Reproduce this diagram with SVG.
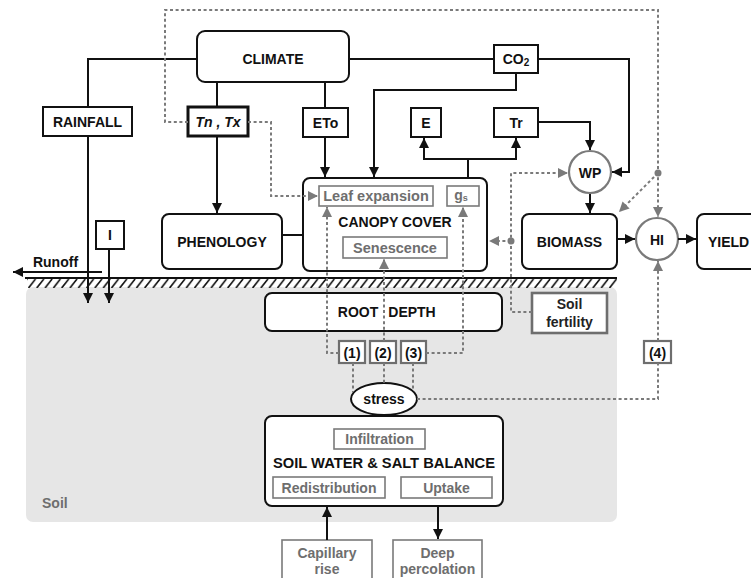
<svg xmlns="http://www.w3.org/2000/svg" width="751" height="578" viewBox="0 0 751 578">
<style>
text{font-family:"Liberation Sans","DejaVu Sans",sans-serif;font-weight:bold;text-anchor:middle;dominant-baseline:central;}
.t{font-size:14px;fill:#111;}
.g{font-size:14px;fill:#6e6e6e;}
.box{fill:#fff;stroke:#111;stroke-width:2;}
.gbox{fill:#fff;stroke:#7a7a7a;stroke-width:1.6;}
.nbox{fill:#fff;stroke:#6e6e6e;stroke-width:2.2;}
.circ{fill:#fff;stroke:#7a7a7a;stroke-width:2.2;}
.ln{fill:none;stroke:#111;stroke-width:2;}
.dl{fill:none;stroke:#7a7a7a;stroke-width:2;stroke-dasharray:3 2.6;}
.dot{fill:#7a7a7a;}
</style>
<defs>
<marker id="ab" viewBox="0 0 10 10" refX="10" refY="5" markerWidth="5" markerHeight="5" markerUnits="strokeWidth" orient="auto"><path d="M0,0 L10,5 L0,10 z" fill="#111"/></marker>
<marker id="ag" viewBox="0 0 10 10" refX="10" refY="5" markerWidth="5" markerHeight="5" markerUnits="strokeWidth" orient="auto"><path d="M0,0 L10,5 L0,10 z" fill="#7a7a7a"/></marker>
<pattern id="hatch" patternUnits="userSpaceOnUse" x="28" y="279" width="8.3" height="9"><path d="M0.5,9 L7.5,0" stroke="#111" stroke-width="1.6"/></pattern>
</defs>

<g id="soil-area">
<rect x="26" y="287" width="591" height="235" rx="7" fill="#e6e6e6"/>
<text class="g" x="42" y="503" style="text-anchor:start">Soil</text>
<rect x="27" y="279" width="590" height="9" fill="url(#hatch)"/>
<line x1="25" y1="278" x2="617" y2="278" stroke="#111" stroke-width="2"/>
</g>

<g id="climate"><rect class="box" x="197" y="31" width="152" height="51" rx="8"/><text class="t" x="273" y="59">CLIMATE</text></g>
<g id="rainfall"><rect class="box" x="43" y="107" width="89" height="29"/><text class="t" x="87.5" y="122">RAINFALL</text></g>
<g id="tntx"><rect class="box" x="188" y="107" width="60" height="29" style="stroke-width:3"/><text class="t" x="218" y="122" style="font-style:italic">Tn , Tx</text></g>
<g id="eto"><rect class="box" x="303" y="108" width="45" height="29"/><text class="t" x="325.5" y="122.5">ETo</text></g>
<g id="co2"><rect class="box" x="494" y="45" width="44" height="28"/><text class="t" x="516" y="59">CO<tspan style="font-size:10px" dy="3">2</tspan></text></g>
<g id="e"><rect class="box" x="411" y="108" width="30" height="29"/><text class="t" x="426" y="122.5">E</text></g>
<g id="tr"><rect class="box" x="494" y="108" width="44" height="29"/><text class="t" x="516" y="122.5">Tr</text></g>
<g id="wp"><circle class="circ" cx="590" cy="172" r="21"/><text class="t" x="590" y="172.5">WP</text></g>
<g id="i"><rect class="box" x="96" y="221" width="28" height="28"/><text class="t" x="110" y="235">I</text></g>
<g id="runoff"><text class="t" x="55.5" y="262">Runoff</text></g>
<g id="phenology"><rect class="box" x="162" y="214" width="120" height="55" rx="7"/><text class="t" x="222" y="241.5">PHENOLOGY</text></g>
<g id="canopy">
<rect class="box" x="303" y="178" width="184" height="93" rx="7"/>
<text class="t" x="395" y="222">CANOPY COVER</text>
<rect class="gbox" x="319" y="186" width="114" height="20"/><text class="g" x="376" y="196" style="font-size:14.5px">Leaf expansion</text>
<rect class="gbox" x="447" y="186" width="32" height="20"/><text class="g" x="461" y="195">g<tspan style="font-size:9px" dy="3">s</tspan></text>
<rect class="gbox" x="343" y="237" width="104" height="21"/><text class="g" x="395" y="247.5" style="font-size:14.5px">Senescence</text>
</g>
<g id="biomass"><rect class="box" x="522" y="214" width="95" height="55" rx="7"/><text class="t" x="569.5" y="241.5">BIOMASS</text></g>
<g id="hi"><circle class="circ" cx="657" cy="239" r="21"/><text class="t" x="657" y="239.5">HI</text></g>
<g id="yield"><rect class="box" x="697" y="214" width="70" height="55" rx="7"/><text class="t" x="708" y="241.5" style="text-anchor:start">YIELD</text></g>
<g id="soil-fertility"><rect class="nbox" x="532" y="293" width="75" height="40" style="stroke-width:2.6"/><text class="t" x="569.5" y="304" style="fill:#222">Soil</text><text class="t" x="569.5" y="322" style="fill:#222">fertility</text></g>
<g id="root-depth"><rect class="box" x="265" y="293" width="237" height="38" rx="7"/><text class="t" x="358" y="312">ROOT<tspan x="412">DEPTH</tspan></text></g>
<g id="s1"><rect class="nbox" x="339" y="341" width="26" height="22"/><text class="t" x="352" y="352.5">(1)</text></g>
<g id="s2"><rect class="nbox" x="370" y="341" width="26" height="22"/><text class="t" x="383" y="352.5">(2)</text></g>
<g id="s3"><rect class="nbox" x="401" y="341" width="25" height="22"/><text class="t" x="413.5" y="352.5">(3)</text></g>
<g id="s4"><rect class="nbox" x="644" y="341" width="27" height="22"/><text class="t" x="657.5" y="352.5">(4)</text></g>
<g id="stress"><ellipse cx="384" cy="399" rx="33" ry="16" fill="#fff" stroke="#111" stroke-width="2"/><text class="t" x="384" y="399">stress</text></g>
<g id="soil-water">
<rect class="box" x="265" y="416" width="238" height="90" rx="7"/>
<rect class="gbox" x="334" y="429" width="91" height="20"/><text class="g" x="379.5" y="439">Infiltration</text>
<text class="t" x="384" y="463" style="font-size:14.5px" textLength="222" lengthAdjust="spacingAndGlyphs">SOIL WATER &amp; SALT BALANCE</text>
<rect class="gbox" x="273" y="477" width="112" height="21"/><text class="g" x="329" y="487.5">Redistribution</text>
<rect class="gbox" x="401" y="477" width="91" height="21"/><text class="g" x="446.5" y="487.5">Uptake</text>
</g>
<g id="capillary"><rect class="gbox" x="282" y="540" width="90" height="45"/><text class="g" x="327" y="553">Capillary</text><text class="g" x="327" y="569">rise</text></g>
<g id="deep"><rect class="gbox" x="393" y="540" width="89" height="45"/><text class="g" x="437.5" y="553">Deep</text><text class="g" x="437.5" y="569">percolation</text></g>

<g id="connectors">
<path class="ln" d="M197,59 H88 V107"/>
<path class="ln" d="M217,82 V107"/>
<path class="ln" d="M325,82 V108"/>
<path class="ln" d="M349,59 H494"/>
<path class="ln" d="M538,59 H629 V172 H612" marker-end="url(#ab)"/>
<path class="ln" d="M516,73 V90 H374 V177" marker-end="url(#ab)"/>
<path class="ln" d="M325,137 V177" marker-end="url(#ab)"/>
<path class="ln" d="M217,136 V213" marker-end="url(#ab)"/>
<path class="ln" d="M88,136 V303" marker-end="url(#ab)"/>
<path class="ln" d="M109,249 V303" marker-end="url(#ab)"/>
<path class="ln" d="M102,272 H13" marker-end="url(#ab)"/>
<path class="ln" d="M282,235 H303"/>
<path class="ln" d="M468,178 V159 H424 V138" marker-end="url(#ab)"/>
<path class="ln" d="M468,159 H516 V138" marker-end="url(#ab)"/>
<path class="ln" d="M538,122 H590 V150" marker-end="url(#ab)"/>
<path class="ln" d="M590,194 V213" marker-end="url(#ab)"/>
<path class="ln" d="M617,239 H635" marker-end="url(#ab)"/>
<path class="ln" d="M678,239 H696" marker-end="url(#ab)"/>
<path class="ln" d="M327,540 V507" marker-end="url(#ab)"/>
<path class="ln" d="M438,506 V539" marker-end="url(#ab)"/>

<path class="dl" d="M188,122 H165 V10 H658 V217" marker-end="url(#ag)"/>
<path class="dl" d="M248,122 H271 V196 H318" marker-end="url(#ag)"/>
<path class="dl" d="M658,173 L619,212" marker-end="url(#ag)"/>
<path class="dl" d="M339,353 H327 V207" marker-end="url(#ag)"/>
<path class="dl" d="M384,341 V259" marker-end="url(#ag)"/>
<path class="dl" d="M426,353 H463 V207" marker-end="url(#ag)"/>
<path class="dl" d="M353,363 V392"/>
<path class="dl" d="M384,363 V383"/>
<path class="dl" d="M413,363 V391"/>
<path class="dl" d="M417,399 H658 V363"/>
<path class="dl" d="M658,341 V261" marker-end="url(#ag)"/>
<path class="dl" d="M532,312 H511 V173 H568" marker-end="url(#ag)"/>
<path class="dl" d="M511,241 H489" marker-end="url(#ag)"/>
<circle class="dot" cx="658" cy="173" r="3.5"/>
<circle class="dot" cx="511" cy="241" r="3.5"/>
</g>
</svg>
